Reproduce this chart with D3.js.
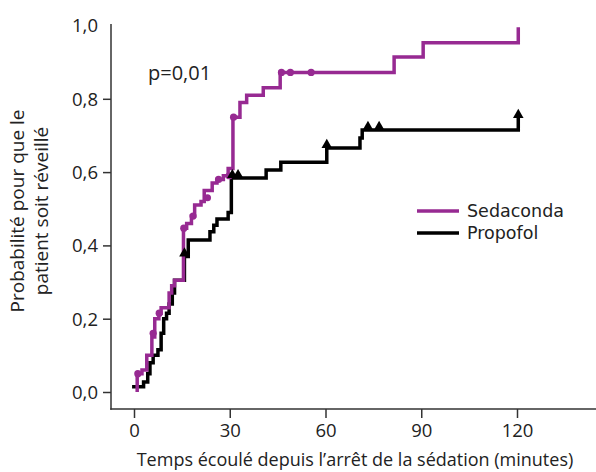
<!DOCTYPE html>
<html><head><meta charset="utf-8">
<script src="https://cdn.jsdelivr.net/npm/d3@7"></script>
<style>body{margin:0;background:#fff}svg{display:block;font-family:"Open Sans",sans-serif}</style>
</head><body><svg id="c" width="596" height="472"></svg>
<script>
// Sedaconda step curve (time in minutes, probability)
const sedTimes = [1, 1, 2.5, 4, 5.6, 6.5, 7.8, 8.5, 11, 11.8, 12.7, 15.5, 16.5, 18, 19, 21, 22, 24.5, 26, 28, 29.5, 31, 33.2, 35.3, 40.5, 45.8, 81.5, 90.6, 120.4, 120.4];
const sedProbs = [0, 0.05, 0.06, 0.10, 0.15, 0.20, 0.215, 0.23, 0.27, 0.29, 0.305, 0.447, 0.46, 0.48, 0.51, 0.52, 0.55, 0.57, 0.58, 0.59, 0.61, 0.75, 0.79, 0.81, 0.83, 0.872, 0.914, 0.953, 0.953, 0.995];
const sedCensorT = [1.2, 6.0, 7.9, 15.6, 18.5, 23.0, 26.5, 29.8, 31.2, 46.2, 49.0, 55.5];
const sedCensorP = [0.05, 0.16, 0.215, 0.447, 0.48, 0.53, 0.58, 0.59, 0.75, 0.872, 0.872, 0.872];
// Propofol step curve
const proTimes = [-0.6, 3, 4.3, 5, 6, 7.5, 8.5, 9.3, 10.2, 11, 12, 12.7, 15.8, 17, 23.8, 25, 26, 29.5, 30.5, 41.4, 46, 60.4, 70.8, 71.5, 120.4, 120.4];
const proProbs = [0.014, 0.027, 0.05, 0.08, 0.10, 0.115, 0.16, 0.20, 0.215, 0.24, 0.27, 0.305, 0.37, 0.415, 0.437, 0.455, 0.472, 0.49, 0.584, 0.606, 0.627, 0.666, 0.693, 0.715, 0.715, 0.748];
const proCensorT = [15.8, 30.8, 32.6, 60.4, 73.3, 76.8, 120.4];
const proCensorP = [0.37, 0.584, 0.584, 0.666, 0.715, 0.715, 0.748];
const xTicks = [0, 30, 60, 90, 120];
const yTicks = [0, 0.2, 0.4, 0.6, 0.8, 1.0];
const seriesNames = ["Sedaconda", "Propofol"];
const colors = ["#972a92", "#000000"];

const svg = d3.select("#c");
const x = d3.scaleLinear().domain([0, 120]).range([134, 517]);
const y = d3.scaleLinear().domain([0, 1]).range([392, 25.5]);
const fmt = d => d3.format(".1f")(d).replace(".", ",");
const axisColor = "#333";
const txt = "#222";

// axes
const gx = svg.append("g").attr("transform", "translate(0,409)")
  .call(d3.axisBottom(x).tickValues(xTicks).tickSize(9).tickPadding(6));
gx.select(".domain").remove();
gx.selectAll("line").attr("stroke", axisColor).attr("stroke-width", 1.5);
gx.selectAll("text").attr("font-size", 18.5).attr("fill", txt).attr("font-family", "Open Sans");

const gy = svg.append("g").attr("transform", "translate(111,0)")
  .call(d3.axisLeft(y).tickValues(yTicks).tickFormat(fmt).tickSize(8).tickPadding(5));
gy.select(".domain").remove();
gy.selectAll("line").attr("stroke", axisColor).attr("stroke-width", 1.5)
  .attr("display", d => d === 1 ? "none" : null);
gy.selectAll("text").attr("font-size", 18.5).attr("fill", txt).attr("font-family", "Open Sans")
  .attr("dy", "0.35em");

svg.append("line").attr("x1", 111).attr("x2", 111).attr("y1", 24).attr("y2", 409.75)
  .attr("stroke", axisColor).attr("stroke-width", 1.5);
svg.append("line").attr("x1", 110.25).attr("x2", 596).attr("y1", 409).attr("y2", 409)
  .attr("stroke", axisColor).attr("stroke-width", 1.5);

// titles
svg.append("text").attr("x", 355).attr("y", 466).attr("text-anchor", "middle")
  .attr("font-size", 18).attr("fill", txt).text("Temps écoulé depuis l’arrêt de la sédation (minutes)");
const yt = svg.append("text").attr("transform", "translate(24,211) rotate(-90)")
  .attr("text-anchor", "middle").attr("font-size", 19).attr("fill", txt);
yt.append("tspan").attr("x", 0).attr("dy", 0).text("Probabilité pour que le");
yt.append("tspan").attr("x", 0).attr("dy", 24).text("patient soit réveillé");

svg.append("text").attr("x", 148).attr("y", 80).attr("font-size", 20).attr("fill", txt).text("p=0,01");

// curves
const line = d3.line().x(d => x(d[0])).y(d => y(d[1])).curve(d3.curveStepAfter);
const sed = sedTimes.map((t, i) => [t, sedProbs[i]]);
const pro = proTimes.map((t, i) => [t, proProbs[i]]);

svg.append("path").datum(pro).attr("d", line).attr("fill", "none")
  .attr("stroke", colors[1]).attr("stroke-width", 3.5).attr("stroke-linejoin", "miter");
svg.append("path").datum(sed).attr("d", line).attr("fill", "none")
  .attr("stroke", colors[0]).attr("stroke-width", 3.5).attr("stroke-linejoin", "miter");

svg.selectAll(".sc").data(sedCensorT).join("circle")
  .attr("cx", d => x(d)).attr("cy", (d, i) => y(sedCensorP[i])).attr("r", 3.6).attr("fill", colors[0]);
const tri = d3.symbol().type(d3.symbolTriangle).size(48);
svg.selectAll(".pc").data(proCensorT).join("path")
  .attr("d", tri).attr("fill", colors[1])
  .attr("transform", (d, i) => `translate(${x(d)},${y(proCensorP[i]) - 3})`);

// legend
const lg = svg.append("g");
seriesNames.forEach((n, i) => {
  const yy = 211 + i * 22;
  lg.append("line").attr("x1", 417).attr("x2", 459).attr("y1", yy).attr("y2", yy)
    .attr("stroke", colors[i]).attr("stroke-width", 3.5);
  lg.append("text").attr("x", 467).attr("y", yy).attr("dy", "0.35em")
    .attr("font-family", "DejaVu Sans").attr("font-size", 17.5).attr("fill", txt).text(n);
});
</script></body></html>
